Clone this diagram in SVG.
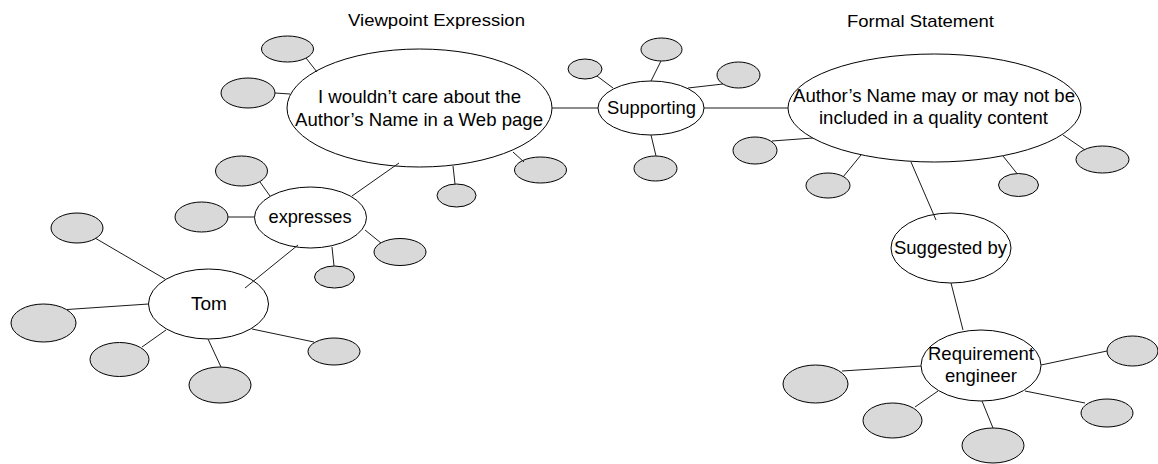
<svg xmlns="http://www.w3.org/2000/svg" width="1158" height="464" viewBox="0 0 1158 464">
  <style>
    .hub { fill: #ffffff; stroke: #000000; stroke-width: 1; }
    .leaf { fill: #d9d9d9; stroke: #000000; stroke-width: 1; }
    .label { font-family: "Liberation Sans", Arial, sans-serif; font-size: 17.7px; fill: #000000; text-anchor: middle; }
    .title { font-family: "Liberation Sans", Arial, sans-serif; font-size: 16.4px; fill: #000000; text-anchor: middle; }
    .link { stroke: #1a1a1a; stroke-width: 1; fill: none; }
  </style>
  <rect width="1158" height="464" fill="#ffffff"/>

  <!-- section titles -->
  <text class="title" x="436.5" y="25.5" textLength="177" lengthAdjust="spacingAndGlyphs">Viewpoint Expression</text>
  <text class="title" x="920.5" y="26.5" textLength="147" lengthAdjust="spacingAndGlyphs">Formal Statement</text>

  <!-- main concept nodes -->
  <g id="viewpoint">
    <ellipse class="hub" cx="419.5" cy="108" rx="132.5" ry="59"/>
    <text class="label" x="419.5" y="103" textLength="203" lengthAdjust="spacingAndGlyphs">I wouldn’t care about the</text>
    <text class="label" x="419" y="126" textLength="248" lengthAdjust="spacingAndGlyphs">Author’s Name in a Web page</text>
  </g>
  <g id="supporting">
    <ellipse class="hub" cx="651" cy="108" rx="53" ry="27"/>
    <text class="label" x="651.5" y="114" textLength="89" lengthAdjust="spacingAndGlyphs">Supporting</text>
  </g>
  <g id="statement">
    <ellipse class="hub" cx="934.5" cy="108" rx="146.5" ry="54"/>
    <text class="label" x="934" y="102" textLength="282" lengthAdjust="spacingAndGlyphs">Author’s Name may or may not be</text>
    <text class="label" x="933.5" y="124" textLength="229" lengthAdjust="spacingAndGlyphs">included in a quality content</text>
  </g>
  <g id="expresses">
    <ellipse class="hub" cx="310.5" cy="217.5" rx="56" ry="30.5"/>
    <text class="label" x="310" y="223" textLength="83" lengthAdjust="spacingAndGlyphs">expresses</text>
  </g>
  <g id="tom">
    <ellipse class="hub" cx="208.5" cy="304" rx="60" ry="35"/>
    <text class="label" x="209" y="310" textLength="36" lengthAdjust="spacingAndGlyphs">Tom</text>
  </g>
  <g id="suggested">
    <ellipse class="hub" cx="951" cy="248" rx="60" ry="35"/>
    <text class="label" x="950.5" y="254" textLength="113" lengthAdjust="spacingAndGlyphs">Suggested by</text>
  </g>
  <g id="engineer">
    <ellipse class="hub" cx="981" cy="365.5" rx="60" ry="35.5"/>
    <text class="label" x="981" y="360" textLength="106" lengthAdjust="spacingAndGlyphs">Requirement</text>
    <text class="label" x="981" y="382" textLength="72" lengthAdjust="spacingAndGlyphs">engineer</text>
  </g>

  <!-- unlabelled attribute nodes -->
  <g id="leaf-v1"><ellipse class="leaf" cx="287.5" cy="49" rx="26" ry="13"/></g>
  <g id="leaf-v2"><ellipse class="leaf" cx="248" cy="93" rx="27" ry="15"/></g>
  <g id="leaf-v3"><ellipse class="leaf" cx="540.5" cy="170" rx="26" ry="13"/></g>
  <g id="leaf-v4"><ellipse class="leaf" cx="456.5" cy="195.5" rx="19.5" ry="11.5"/></g>
  <g id="leaf-e1"><ellipse class="leaf" cx="241.5" cy="171" rx="26" ry="15"/></g>
  <g id="leaf-e2"><ellipse class="leaf" cx="201.5" cy="217" rx="26.5" ry="15"/></g>
  <g id="leaf-e3"><ellipse class="leaf" cx="400" cy="252" rx="26" ry="13.5"/></g>
  <g id="leaf-e4"><ellipse class="leaf" cx="334.5" cy="277" rx="20" ry="11"/></g>
  <g id="leaf-t1"><ellipse class="leaf" cx="77" cy="228" rx="26" ry="15"/></g>
  <g id="leaf-t2"><ellipse class="leaf" cx="43.5" cy="323" rx="32.5" ry="19"/></g>
  <g id="leaf-t3"><ellipse class="leaf" cx="119.5" cy="359.5" rx="29.5" ry="17"/></g>
  <g id="leaf-t4"><ellipse class="leaf" cx="220" cy="385" rx="31" ry="18"/></g>
  <g id="leaf-t5"><ellipse class="leaf" cx="334" cy="351.5" rx="26" ry="13.5"/></g>
  <g id="leaf-s1"><ellipse class="leaf" cx="585" cy="69" rx="17" ry="10"/></g>
  <g id="leaf-s2"><ellipse class="leaf" cx="661.5" cy="49.5" rx="20.5" ry="11.5"/></g>
  <g id="leaf-s3"><ellipse class="leaf" cx="738.5" cy="75" rx="21.5" ry="13"/></g>
  <g id="leaf-s4"><ellipse class="leaf" cx="655.5" cy="168.5" rx="21.5" ry="12.5"/></g>
  <g id="leaf-f1"><ellipse class="leaf" cx="755" cy="150.5" rx="22" ry="13.5"/></g>
  <g id="leaf-f2"><ellipse class="leaf" cx="828" cy="185.5" rx="22" ry="12.5"/></g>
  <g id="leaf-f3"><ellipse class="leaf" cx="1018.5" cy="185" rx="20" ry="11.5"/></g>
  <g id="leaf-f4"><ellipse class="leaf" cx="1102.5" cy="159.5" rx="26.5" ry="13.5"/></g>
  <g id="leaf-r1"><ellipse class="leaf" cx="815.5" cy="384" rx="32.5" ry="19"/></g>
  <g id="leaf-r2"><ellipse class="leaf" cx="892.5" cy="420.5" rx="29.5" ry="17.5"/></g>
  <g id="leaf-r3"><ellipse class="leaf" cx="993" cy="445.5" rx="31" ry="17.5"/></g>
  <g id="leaf-r4"><ellipse class="leaf" cx="1107" cy="413" rx="26" ry="14"/></g>
  <g id="leaf-r5"><ellipse class="leaf" cx="1132.5" cy="351" rx="25.5" ry="15"/></g>

  <!-- connectors -->
  <g id="connectors" class="link">
    <line x1="306" y1="58" x2="317" y2="72"/>
    <line x1="275" y1="93" x2="290" y2="94"/>
    <line x1="552" y1="108" x2="598" y2="108"/>
    <line x1="513" y1="152" x2="524" y2="162"/>
    <line x1="453" y1="166" x2="455" y2="184"/>
    <line x1="399" y1="163" x2="352" y2="196"/>

    <line x1="260" y1="182" x2="270" y2="196"/>
    <line x1="228" y1="217" x2="254.5" y2="217"/>
    <line x1="365" y1="230" x2="381" y2="243"/>
    <line x1="332" y1="247" x2="334" y2="266"/>
    <line x1="298" y1="245" x2="245" y2="288"/>

    <line x1="95" y1="238" x2="165" y2="279"/>
    <line x1="67" y1="309.5" x2="148.5" y2="304"/>
    <line x1="142" y1="347" x2="166" y2="330"/>
    <line x1="208" y1="339" x2="221" y2="367"/>
    <line x1="252" y1="329" x2="314" y2="342"/>

    <line x1="597" y1="76" x2="613" y2="88"/>
    <line x1="661" y1="61" x2="651" y2="81"/>
    <line x1="688" y1="88" x2="723" y2="84"/>
    <line x1="651" y1="135" x2="656" y2="156"/>
    <line x1="704" y1="108" x2="788" y2="108"/>

    <line x1="772" y1="141" x2="813" y2="138"/>
    <line x1="843" y1="177" x2="861" y2="155"/>
    <line x1="1003" y1="156" x2="1017" y2="173.5"/>
    <line x1="1063" y1="135" x2="1085" y2="150"/>
    <line x1="911" y1="162" x2="936" y2="220"/>

    <line x1="951" y1="283" x2="963" y2="330"/>

    <line x1="842" y1="371" x2="921" y2="366"/>
    <line x1="915" y1="407" x2="938" y2="391"/>
    <line x1="982" y1="401" x2="993" y2="428"/>
    <line x1="1025" y1="391" x2="1085" y2="403"/>
    <line x1="1041" y1="365" x2="1107" y2="351"/>
  </g>
</svg>
